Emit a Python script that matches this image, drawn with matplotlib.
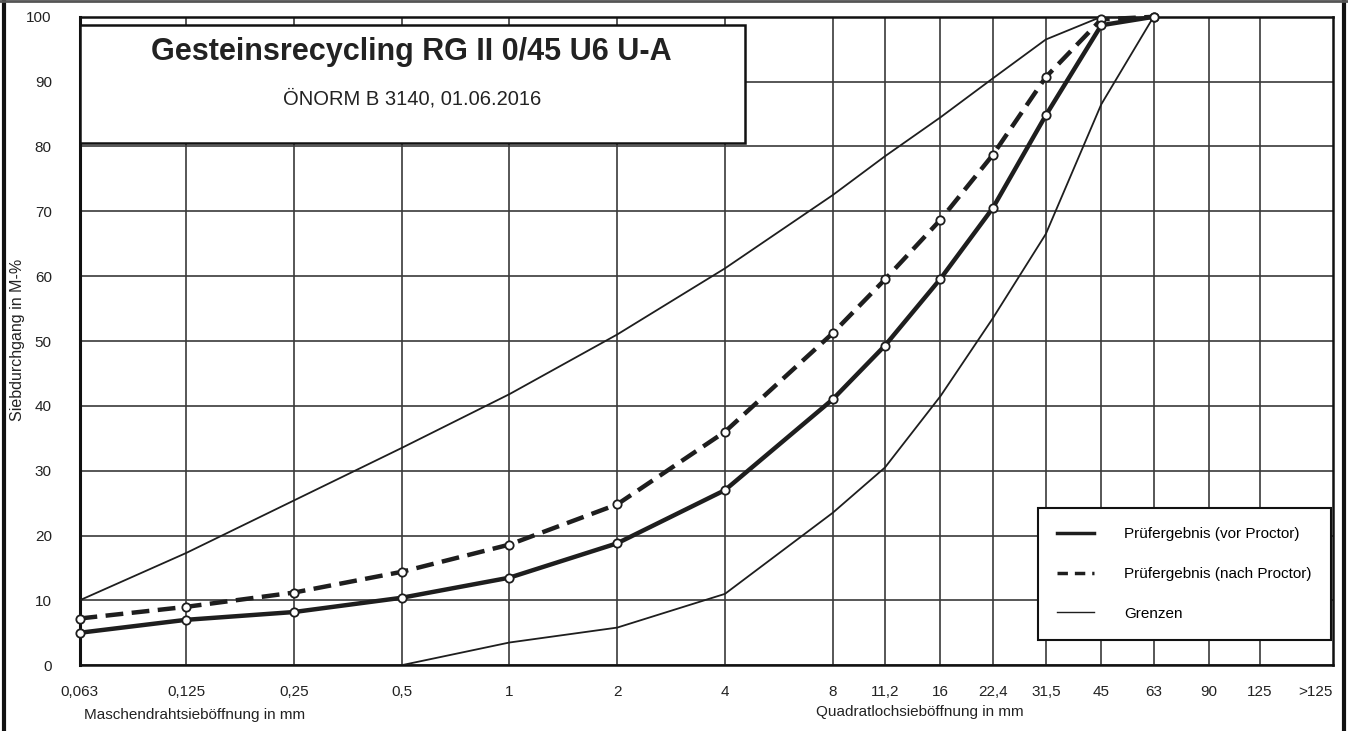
import matplotlib
matplotlib.use("Agg")
import matplotlib.pyplot as plt
from matplotlib.patches import Rectangle
from matplotlib.lines import Line2D
from matplotlib.ticker import FixedLocator, FixedFormatter

plt.rcParams['font.family'] = ['Liberation Sans', 'DejaVu Sans']

# Siebgroessen in mm
sieve = [0.063, 0.125, 0.25, 0.5, 1, 2, 4, 8, 11.2, 16, 22.4, 31.5, 45, 63]
sieve_labels = ["0,063", "0,125", "0,25", "0,5", "1", "2", "4", "8", "11,2",
                "16", "22,4", "31,5", "45", "63", "90", "125"]
grid_sieves = [0.063, 0.125, 0.25, 0.5, 1, 2, 4, 8, 11.2, 16, 22.4, 31.5, 45, 63, 90, 125]

# Pruefergebnisse (Siebdurchgang M-%)
vor_proctor = [5.0, 7.0, 8.2, 10.4, 13.5, 18.8, 27.0, 41.0, 49.3, 59.6, 70.5, 84.8, 98.7, 100]
nach_proctor = [7.2, 9.0, 11.2, 14.4, 18.6, 24.8, 36.0, 51.2, 59.5, 68.7, 78.7, 90.7, 99.6, 100]

# Grenzen
upper_x = [0.063, 0.125, 0.25, 0.5, 1, 2, 4, 8, 11.2, 16, 22.4, 31.5, 45, 63]
upper = [10.0, 17.3, 25.4, 33.5, 41.8, 51.0, 61.2, 72.5, 78.5, 84.5, 90.5, 96.5, 100, 100]
lower_x = [0.5, 1, 2, 4, 8, 11.2, 16, 22.4, 31.5, 45, 63]
lower = [0.0, 3.5, 5.8, 11.0, 23.5, 30.5, 41.5, 53.5, 66.5, 86.5, 100]

ink = "#1e1e1e"

fig = plt.figure(figsize=(13.48, 7.31), dpi=100)
ax = fig.add_axes([0.059, 0.090, 0.930, 0.887])

ax.set_xscale("log", base=2)
ax.set_xlim(0.063, 200)
ax.set_ylim(0, 100)

# Grenzen
ax.plot(upper_x, upper, color=ink, lw=1.3, zorder=3)
ax.plot(lower_x, lower, color=ink, lw=1.3, zorder=3)

# Pruefergebnisse
ax.plot(sieve, nach_proctor, color=ink, lw=3.2, ls=(0, (4.0, 1.9)), zorder=4,
        marker="o", ms=6, mfc="white", mec=ink, mew=1.3, clip_on=False)
ax.plot(sieve, vor_proctor, color=ink, lw=3.2, zorder=5,
        marker="o", ms=6, mfc="white", mec=ink, mew=1.3, clip_on=False)

# Achsen / Gitter
ax.xaxis.set_major_locator(FixedLocator(grid_sieves))
ax.xaxis.set_major_formatter(FixedFormatter(sieve_labels))
ax.xaxis.set_minor_locator(FixedLocator([179]))
ax.xaxis.set_minor_formatter(FixedFormatter([">125"]))
ax.set_yticks(range(0, 101, 10))
ax.grid(True, which="major", color="#3a3a3a", lw=1.2, zorder=1)
ax.tick_params(axis="both", which="both", length=0, labelsize=11, colors="#222222")
ax.tick_params(axis="x", which="both", pad=14)
ax.tick_params(axis="y", pad=20)
for s in ax.spines.values():
    s.set_linewidth(1.8)
    s.set_color("#111111")
ax.spines["left"].set_linewidth(2.2)

# Titelbox
ax.add_patch(Rectangle((0, 0.805), 0.531, 0.183, transform=ax.transAxes,
                       facecolor="white", edgecolor="#111111", lw=1.8, zorder=6))
ax.text(0.265, 0.945, "Gesteinsrecycling RG II 0/45 U6 U-A", transform=ax.transAxes,
        ha="center", va="center", fontsize=22, fontweight="bold", color="#222222", zorder=7)
ax.text(0.265, 0.874, "ÖNORM B 3140, 01.06.2016", transform=ax.transAxes,
        ha="center", va="center", fontsize=14.5, color="#222222", zorder=7)

# Achsenbeschriftungen
fig.text(0.062, 0.017, "Maschendrahtsieböffnung in mm", fontsize=11, color="#222222")
fig.text(0.682, 0.020, "Quadratlochsieböffnung in mm", fontsize=11, ha="center", color="#222222")
fig.text(0.013, 0.535, "Siebdurchgang in M-%", rotation=90, fontsize=11.5,
         va="center", ha="center", color="#222222")

# Legende
handles = [Line2D([], [], color=ink, lw=2.5),
           Line2D([], [], color=ink, lw=2.5, ls=(0, (3, 2))),
           Line2D([], [], color=ink, lw=1.0)]
labels = ["Prüfergebnis (vor Proctor)", "Prüfergebnis (nach Proctor)", "Grenzen"]
leg = ax.legend(handles, labels, loc="lower right", bbox_to_anchor=(0.998, 0.039),
                fontsize=11, frameon=True, fancybox=False, edgecolor="#111111",
                framealpha=1, handlelength=2.4, handletextpad=2.0, labelspacing=1.7,
                borderpad=1.25, borderaxespad=0)
leg.get_frame().set_linewidth(1.5)
leg.set_zorder(8)

# Rahmen des Scans
fig.add_artist(Line2D([0.003, 0.003], [0, 1], transform=fig.transFigure, color="#111111", lw=3))
fig.add_artist(Line2D([0.997, 0.997], [0, 1], transform=fig.transFigure, color="#111111", lw=3))
fig.add_artist(Line2D([0, 1], [0.998, 0.998], transform=fig.transFigure, color="#555555", lw=2))

fig.savefig("out.png", dpi=100)
